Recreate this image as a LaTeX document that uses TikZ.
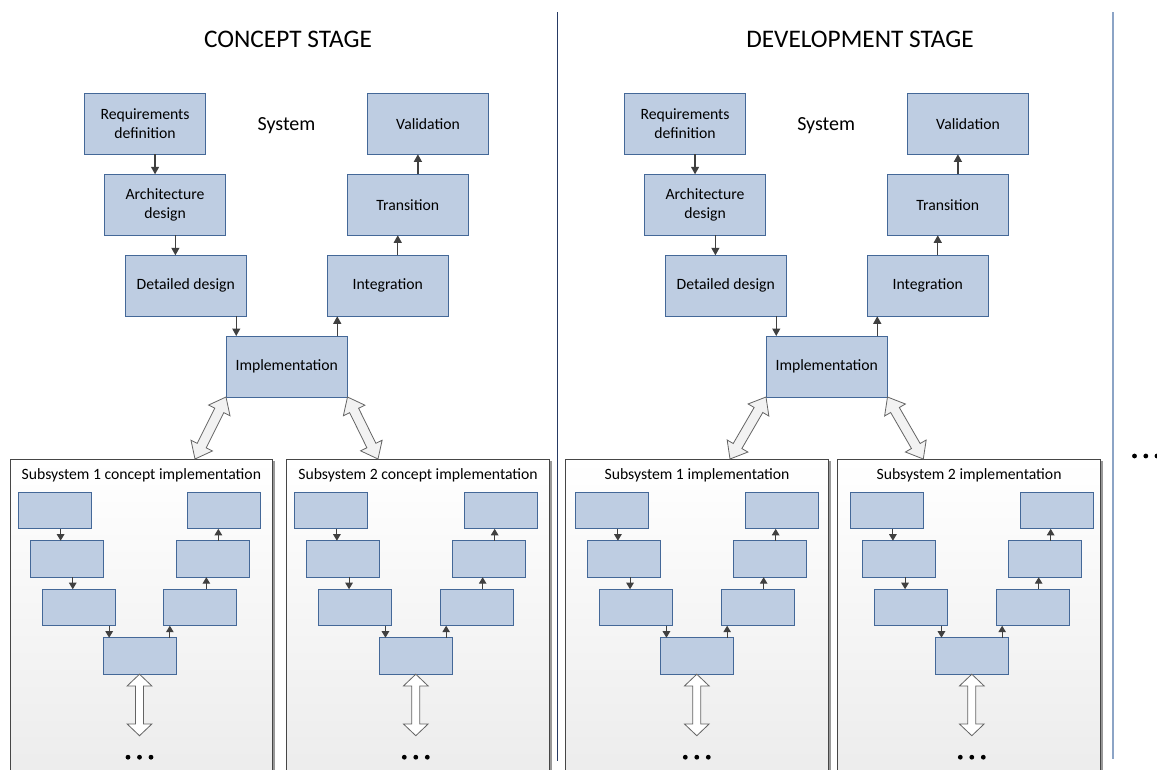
\documentclass[tikz,border=0pt]{standalone}
\usepackage{fontspec}
\setmainfont{Carlito}
\usetikzlibrary{calc,arrows.meta,shadows}

\definecolor{boxfill}{RGB}{190,205,226}
\definecolor{boxline}{RGB}{68,104,152}
\definecolor{flowgray}{RGB}{64,64,64}
\definecolor{panelline}{RGB}{70,70,70}
\definecolor{panelbot}{RGB}{236,236,236}
\definecolor{divnavy}{RGB}{38,58,100}
\definecolor{divsteel}{RGB}{140,164,198}
\definecolor{hollowline}{RGB}{100,100,100}
\definecolor{hollowfill}{RGB}{242,242,242}

\newcommand\stgboxfont{\fontsize{15.7}{18.5}\selectfont}

\tikzset{
  stagebox/.style={draw=boxline, fill=boxfill, line width=0.9pt,
    minimum width=121.5pt, minimum height=61pt, inner sep=0pt, outer sep=0pt,
    anchor=north west, align=center, font=\stgboxfont},
  minibox/.style={draw=boxline, fill=boxfill, line width=0.9pt,
    minimum width=73pt, minimum height=36.5pt, inner sep=0pt, outer sep=0pt,
    anchor=north west},
  flow/.style={draw=flowgray, line width=1.2pt, -{Triangle[length=7.5pt,width=8pt]}},
  miniflow/.style={draw=flowgray, line width=1.1pt, -{Triangle[length=6.5pt,width=7.5pt]}},
  panel/.style={draw=panelline, line width=0.8pt, top color=white, bottom color=panelbot,
    minimum width=262.7pt, minimum height=320pt, inner sep=0pt, outer sep=0pt,
    anchor=north west,
    drop shadow={shadow xshift=2.2pt, shadow yshift=-2.2pt, fill=black!40, opacity=1}},
  paneltitle/.style={font=\stgboxfont, anchor=base, inner sep=0pt},
  bigpair/.style={draw=hollowline, fill=hollowfill, line width=0.8pt},
  smallpair/.style={draw=hollowline, fill=white, line width=0.8pt},
  dotmark/.style={fill=black},
}

% down link between two boxes, placed mid-way in their horizontal overlap
\newcommand\linkdown[3]{%
  \coordinate (tmpm) at ($(#2.east)!0.5!(#3.west)$);
  \draw[#1] (#2.south -| tmpm) -- (#3.north -| tmpm);
}
% up link from a lower box to an upper box further right
\newcommand\linkup[3]{%
  \coordinate (tmpm) at ($(#2.east)!0.5!(#3.west)$);
  \draw[#1] (#2.north -| tmpm) -- (#3.south -| tmpm);
}
% hollow double-headed arrow: style, from, to, head length, head half width, shaft half width
\newcommand\hollowpair[6]{%
  \path[#1] let \p1=($(#3)-(#2)$), \n1={atan2(\y1,\x1)}, \n2={veclen(\x1,\y1)} in
    [shift={(#2)}, rotate=\n1]
    (0,0) -- (#4,#5) -- (#4,#6) -- (\n2-#4,#6) -- (\n2-#4,#5) -- (\n2,0)
    -- (\n2-#4,-#5) -- (\n2-#4,-#6) -- (#4,-#6) -- (#4,-#5) -- cycle;
}
% top-level V of one stage
\newcommand\stagev[2]{%
  \node[stagebox] (#1req)  at (84.3+#2,93.3)  {Requirements\\definition};
  \node[stagebox] (#1arch) at (104.3+#2,174.3) {Architecture\\design};
  \node[stagebox] (#1det)  at (125+#2,255.3)  {Detailed design};
  \node[stagebox] (#1impl) at (226+#2,336)    {Implementation};
  \node[stagebox] (#1int)  at (327+#2,255.3)  {Integration};
  \node[stagebox] (#1tra)  at (347+#2,174.3)  {Transition};
  \node[stagebox] (#1val)  at (367.3+#2,93.3) {Validation};
  \linkdown{flow}{#1req}{#1arch}
  \linkdown{flow}{#1arch}{#1det}
  \linkdown{flow}{#1det}{#1impl}
  \linkup{flow}{#1impl}{#1int}
  \linkup{flow}{#1int}{#1tra}
  \linkup{flow}{#1tra}{#1val}
}
% small V inside a subsystem panel
\newcommand\miniv[2]{%
  \node[minibox] (#1a) at (#2,492.3) {};
  \node[minibox] (#1b) at (#2+12.2,540.7) {};
  \node[minibox] (#1c) at (#2+24.3,589.2) {};
  \node[minibox] (#1d) at (#2+85,637.7) {};
  \node[minibox] (#1e) at (#2+145.7,589.2) {};
  \node[minibox] (#1f) at (#2+158,540.7) {};
  \node[minibox] (#1g) at (#2+169.7,492.3) {};
  \linkdown{miniflow}{#1a}{#1b}
  \linkdown{miniflow}{#1b}{#1c}
  \linkdown{miniflow}{#1c}{#1d}
  \linkup{miniflow}{#1d}{#1e}
  \linkup{miniflow}{#1e}{#1f}
  \linkup{miniflow}{#1f}{#1g}
  \coordinate (#1end) at ($(#1d.south)+(0,61.5)$);
  \hollowpair{smallpair}{#1d.south}{#1end}{11.7}{12.3}{4}
  \fill[dotmark] ($(#1d.south)+(-11.5,83)$) circle (2.4);
  \fill[dotmark] ($(#1d.south)+(0,83)$) circle (2.4);
  \fill[dotmark] ($(#1d.south)+(11.5,83)$) circle (2.4);
}

\begin{document}
\begin{tikzpicture}[x=1pt,y=-1pt]
  \clip (0,0) rectangle (1157,769);
  \fill[white] (0,0) rectangle (1157,769);

  % stage separators
  \draw[divnavy, line width=1pt] (557.3,12) -- (557.3,761);
  \draw[divsteel, line width=1.6pt] (1112.7,12) -- (1112.7,759);

  % stage titles
  \node[font=\fontsize{25.3}{30}\selectfont, anchor=base, inner sep=0pt] (ctitle) at (288,47.3) {CONCEPT STAGE};
  \node[font=\fontsize{25.3}{30}\selectfont, anchor=base, inner sep=0pt] (dtitle) at (860,47.3) {DEVELOPMENT STAGE};
  \node[font=\fontsize{20}{24}\selectfont, anchor=base, inner sep=0pt] (csys) at (286.5,130) {System};
  \node[font=\fontsize{20}{24}\selectfont, anchor=base, inner sep=0pt] (dsys) at (826.2,130) {System};

  % subsystem panels
  \node[panel] (cs1) at (10,459) {};
  \node[panel] (cs2) at (286.7,459) {};
  \node[panel] (ds1) at (565.7,459) {};
  \node[panel] (ds2) at (837.7,459) {};
  \node[paneltitle] (cs1t) at ($(cs1.north)+(0,20.3)$) {Subsystem 1 concept implementation};
  \node[paneltitle] (cs2t) at ($(cs2.north)+(0,20.3)$) {Subsystem 2 concept implementation};
  \node[paneltitle] (ds1t) at ($(ds1.north)+(0,20.3)$) {Subsystem 1 implementation};
  \node[paneltitle] (ds2t) at ($(ds2.north)+(0,20.3)$) {Subsystem 2 implementation};

  % system-level V of each stage
  \stagev{c}{0}
  \stagev{d}{540}

  % links from system implementation to the subsystems
  \coordinate (cs1in) at (195,459);
  \coordinate (cs2in) at (378,459);
  \coordinate (ds1in) at (730,459);
  \coordinate (ds2in) at (923.3,459);
  \hollowpair{bigpair}{cimpl.south west}{cs1in}{15}{12}{5}
  \hollowpair{bigpair}{cimpl.south east}{cs2in}{15}{12}{5}
  \hollowpair{bigpair}{dimpl.south west}{ds1in}{15}{12}{5}
  \hollowpair{bigpair}{dimpl.south east}{ds2in}{15}{12}{5}

  % subsystem-level V shapes
  \miniv{cs1}{18}
  \miniv{cs2}{294.3}
  \miniv{ds1}{575.3}
  \miniv{ds2}{850.3}

  % further stages
  \fill[dotmark] (1134.5,456) circle (2.4);
  \fill[dotmark] (1145.8,456) circle (2.4);
  \fill[dotmark] (1157,456) circle (2.4);
\end{tikzpicture}
\end{document}
